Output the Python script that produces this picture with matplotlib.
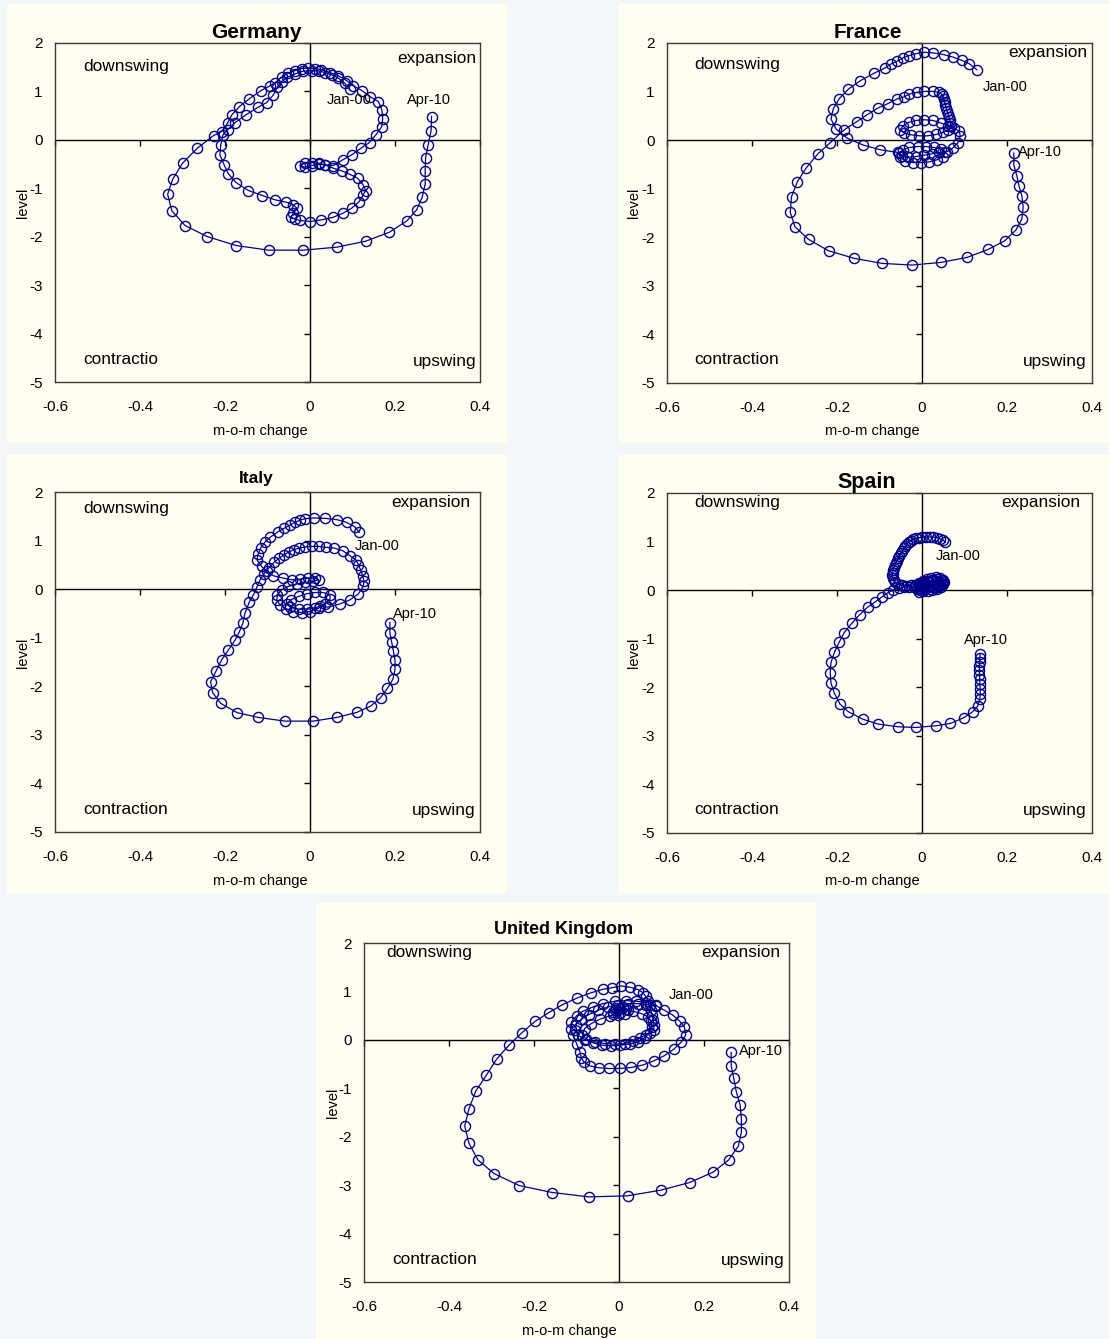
import matplotlib.pyplot as plt
from matplotlib.patches import Rectangle

plt.rcParams['font.family'] = ['Liberation Sans', 'DejaVu Sans']
plt.rcParams['axes.unicode_minus'] = False

# monthly cycle position, Jan-00 .. Apr-10: x = m-o-m change, y = level
germany_x = [
    0.094, 0.082, 0.067, 0.051, 0.035, 0.020, 0.004, -0.016, -0.035, -0.053,
    -0.067, -0.077, -0.086, -0.102, -0.122, -0.151, -0.176, -0.194, -0.205, -0.210,
    -0.212, -0.202, -0.192, -0.174, -0.145, -0.112, -0.082, -0.056, -0.039, -0.031,
    -0.039, -0.045, -0.035, -0.024, 0.000, 0.027, 0.053, 0.078, 0.098, 0.116,
    0.125, 0.131, 0.125, 0.112, 0.093, 0.075, 0.055, 0.035, 0.020, 0.004,
    -0.012, -0.024, -0.012, 0.004, 0.020, 0.035, 0.055, 0.077, 0.098, 0.120,
    0.140, 0.155, 0.169, 0.171, 0.169, 0.161, 0.141, 0.122, 0.102, 0.086,
    0.067, 0.047, 0.027, 0.012, -0.004, -0.020, -0.035, -0.051, -0.067, -0.082,
    -0.094, -0.115, -0.143, -0.166, -0.184, -0.194, -0.208, -0.227, -0.265, -0.300,
    -0.323, -0.335, -0.325, -0.294, -0.242, -0.174, -0.097, -0.016, 0.063, 0.131,
    0.187, 0.228, 0.251, 0.264, 0.271, 0.271, 0.272, 0.278, 0.285, 0.286,
]
germany_y = [
    1.046, 1.170, 1.273, 1.342, 1.390, 1.425, 1.431, 1.418, 1.363, 1.294,
    1.204, 1.087, 0.929, 0.771, 0.674, 0.516, 0.358, 0.206, 0.103, -0.103,
    -0.310, -0.516, -0.702, -0.881, -1.046, -1.149, -1.239, -1.287, -1.342, -1.411,
    -1.514, -1.597, -1.638, -1.665, -1.686, -1.652, -1.603, -1.514, -1.411, -1.273,
    -1.136, -1.046, -0.929, -0.791, -0.709, -0.640, -0.585, -0.516, -0.482, -0.468,
    -0.482, -0.530, -0.564, -0.530, -0.502, -0.516, -0.530, -0.413, -0.310, -0.172,
    -0.055, 0.103, 0.275, 0.434, 0.619, 0.791, 0.895, 1.019, 1.115, 1.225,
    1.321, 1.390, 1.445, 1.473, 1.480, 1.473, 1.431, 1.376, 1.294, 1.184,
    1.115, 1.019, 0.847, 0.688, 0.516, 0.344, 0.172, 0.089, -0.172, -0.482,
    -0.812, -1.122, -1.466, -1.769, -1.996, -2.182, -2.278, -2.278, -2.216, -2.092,
    -1.906, -1.672, -1.445, -1.184, -0.915, -0.640, -0.365, -0.103, 0.193, 0.482,
]

france_x = [
    0.129, 0.111, 0.093, 0.072, 0.051, 0.027, 0.005, -0.014, -0.031, -0.045,
    -0.059, -0.073, -0.087, -0.112, -0.145, -0.173, -0.195, -0.209, -0.214, -0.202,
    -0.176, -0.140, -0.098, -0.056, -0.051, -0.040, -0.022, -0.002, 0.017, 0.035,
    0.049, 0.053, 0.045, 0.029, 0.009, -0.010, -0.030, -0.045, -0.053, -0.048,
    -0.034, -0.014, 0.005, 0.023, 0.041, 0.059, 0.072, 0.084, 0.090, 0.088,
    0.076, 0.060, 0.045, 0.025, 0.005, -0.014, -0.031, -0.045, -0.051, -0.042,
    -0.026, -0.006, 0.013, 0.033, 0.049, 0.062, 0.068, 0.067, 0.065, 0.063,
    0.061, 0.059, 0.057, 0.055, 0.053, 0.051, 0.049, 0.046, 0.041, 0.025,
    0.005, -0.012, -0.030, -0.043, -0.059, -0.081, -0.104, -0.129, -0.154, -0.183,
    -0.217, -0.245, -0.273, -0.293, -0.307, -0.310, -0.299, -0.267, -0.220, -0.159,
    -0.093, -0.024, 0.045, 0.106, 0.156, 0.195, 0.221, 0.235, 0.238, 0.235,
    0.228, 0.223, 0.216, 0.216,
]
france_y = [
    1.451, 1.575, 1.644, 1.713, 1.761, 1.795, 1.809, 1.781, 1.740, 1.692,
    1.623, 1.568, 1.486, 1.382, 1.224, 1.052, 0.853, 0.640, 0.433, 0.227,
    0.041, -0.096, -0.199, -0.254, -0.351, -0.426, -0.461, -0.461, -0.447, -0.406,
    -0.337, -0.254, -0.186, -0.151, -0.131, -0.131, -0.151, -0.199, -0.268, -0.323,
    -0.351, -0.337, -0.310, -0.282, -0.254, -0.234, -0.165, -0.062, 0.076, 0.179,
    0.248, 0.296, 0.351, 0.406, 0.420, 0.406, 0.365, 0.296, 0.213, 0.144,
    0.110, 0.089, 0.089, 0.117, 0.158, 0.213, 0.300, 0.360, 0.420, 0.480,
    0.540, 0.600, 0.660, 0.720, 0.780, 0.840, 0.900, 0.950, 0.983, 1.004,
    1.004, 0.983, 0.949, 0.887, 0.846, 0.750, 0.660, 0.523, 0.378, 0.213,
    -0.062, -0.282, -0.578, -0.853, -1.162, -1.486, -1.781, -2.043, -2.277, -2.435,
    -2.538, -2.572, -2.517, -2.414, -2.249, -2.070, -1.850, -1.623, -1.382, -1.149,
    -0.935, -0.729, -0.509, -0.268,
]

italy_x = [
    0.116, 0.106, 0.086, 0.063, 0.035, 0.009, -0.012, -0.024, -0.035, -0.047,
    -0.061, -0.075, -0.093, -0.106, -0.116, -0.122, -0.125, -0.114, -0.102, -0.086,
    -0.063, -0.043, -0.024, -0.004, 0.012, 0.020, 0.008, -0.012, -0.031, -0.051,
    -0.067, -0.077, -0.078, -0.071, -0.056, -0.039, -0.020, 0.000, 0.020, 0.035,
    0.047, 0.047, 0.031, 0.012, -0.008, -0.027, -0.045, -0.055, -0.047, -0.027,
    -0.008, 0.012, 0.024, 0.043, 0.071, 0.094, 0.114, 0.125, 0.127, 0.124,
    0.119, 0.114, 0.108, 0.094, 0.077, 0.057, 0.038, 0.020, 0.004, -0.012,
    -0.025, -0.038, -0.050, -0.061, -0.072, -0.085, -0.097, -0.108, -0.118, -0.125,
    -0.133, -0.143, -0.153, -0.158, -0.166, -0.176, -0.192, -0.208, -0.221, -0.234,
    -0.229, -0.210, -0.171, -0.122, -0.059, 0.008, 0.063, 0.110, 0.143, 0.166,
    0.182, 0.195, 0.200, 0.200, 0.196, 0.192, 0.188, 0.188,
]
italy_y = [
    1.169, 1.279, 1.376, 1.431, 1.458, 1.465, 1.451, 1.417, 1.376, 1.321,
    1.252, 1.183, 1.073, 0.970, 0.846, 0.722, 0.605, 0.468, 0.365, 0.275,
    0.227, 0.193, 0.206, 0.227, 0.227, 0.193, 0.158, 0.138, 0.110, 0.055,
    -0.014, -0.117, -0.220, -0.323, -0.406, -0.461, -0.481, -0.461, -0.392, -0.303,
    -0.206, -0.117, -0.069, -0.069, -0.096, -0.151, -0.220, -0.303, -0.371, -0.413,
    -0.413, -0.392, -0.344, -0.371, -0.303, -0.220, -0.096, 0.055, 0.158, 0.275,
    0.399, 0.502, 0.605, 0.688, 0.791, 0.846, 0.860, 0.880, 0.880, 0.867,
    0.846, 0.812, 0.763, 0.708, 0.640, 0.550, 0.433, 0.316, 0.179, 0.041,
    -0.117, -0.268, -0.495, -0.702, -0.874, -1.045, -1.252, -1.458, -1.685, -1.905,
    -2.132, -2.352, -2.545, -2.641, -2.717, -2.717, -2.641, -2.538, -2.407, -2.235,
    -2.043, -1.857, -1.651, -1.458, -1.266, -1.080, -0.894, -0.688,
]

spain_x = [
    0.055, 0.050, 0.043, 0.035, 0.027, 0.018, 0.009, 0.000, -0.008, -0.015,
    -0.021, -0.026, -0.031, -0.035, -0.039, -0.042, -0.046, -0.050, -0.053, -0.056,
    -0.059, -0.062, -0.064, -0.066, -0.068, -0.069, -0.070, -0.069, -0.067, -0.063,
    -0.056, -0.047, -0.037, -0.027, -0.017, -0.008, 0.003, 0.014, 0.025, 0.036,
    0.045, 0.050, 0.048, 0.041, 0.031, 0.019, 0.008, -0.002, -0.008, -0.006,
    0.002, 0.012, 0.022, 0.033, 0.043, 0.049, 0.052, 0.050, 0.044, 0.035,
    0.024, 0.013, 0.003, -0.004, -0.007, -0.003, 0.006, 0.016, 0.027, 0.037,
    0.042, 0.038, 0.028, 0.017, 0.008, 0.003, 0.006, 0.000, -0.006, -0.012,
    -0.020, -0.030, -0.042, -0.055, -0.068, -0.080, -0.093, -0.110, -0.128, -0.147,
    -0.165, -0.183, -0.195, -0.206, -0.214, -0.216, -0.214, -0.206, -0.193, -0.173,
    -0.140, -0.103, -0.057, -0.014, 0.033, 0.067, 0.098, 0.119, 0.131, 0.136,
    0.137, 0.137, 0.136, 0.136, 0.135, 0.135, 0.135, 0.136, 0.136, 0.137,
]
spain_y = [
    0.983, 1.030, 1.060, 1.080, 1.090, 1.095, 1.095, 1.090, 1.080, 1.065,
    1.045, 1.020, 0.990, 0.950, 0.900, 0.860, 0.810, 0.760, 0.710, 0.660,
    0.610, 0.560, 0.510, 0.460, 0.410, 0.360, 0.310, 0.260, 0.210, 0.160,
    0.120, 0.100, 0.095, 0.100, 0.110, 0.130, 0.160, 0.190, 0.210, 0.220,
    0.200, 0.160, 0.120, 0.080, 0.050, 0.030, 0.030, 0.050, 0.090, 0.140,
    0.190, 0.230, 0.260, 0.270, 0.250, 0.210, 0.170, 0.120, 0.070, 0.030,
    0.000, -0.020, -0.020, 0.010, 0.050, 0.100, 0.140, 0.170, 0.180, 0.170,
    0.130, 0.090, 0.070, 0.070, 0.090, 0.120, 0.060, 0.000, -0.030, 0.020,
    0.060, 0.070, 0.060, 0.035, 0.000, -0.050, -0.131, -0.241, -0.351, -0.509,
    -0.681, -0.874, -1.073, -1.279, -1.486, -1.713, -1.919, -2.125, -2.345, -2.504,
    -2.655, -2.758, -2.813, -2.827, -2.792, -2.744, -2.627, -2.504, -2.387, -2.249,
    -2.139, -2.029, -1.933, -1.836, -1.740, -1.644, -1.561, -1.479, -1.396, -1.314,
]

uk_x = [
    0.088, 0.064, 0.041, 0.017, -0.010, -0.038, -0.061, -0.085, -0.100, -0.112,
    -0.114, -0.108, -0.100, -0.092, -0.089, -0.083, -0.069, -0.047, -0.024, 0.002,
    0.029, 0.055, 0.082, 0.106, 0.129, 0.147, 0.157, 0.154, 0.143, 0.127,
    0.107, 0.088, 0.064, 0.045, 0.021, -0.002, -0.026, -0.049, -0.071, -0.089,
    -0.102, -0.104, -0.096, -0.081, -0.061, -0.039, -0.018, 0.003, 0.025, 0.045,
    0.060, 0.072, 0.078, 0.076, 0.068, 0.053, 0.033, 0.016, 0.002, -0.010,
    -0.014, -0.002, 0.013, 0.021, 0.009, -0.006, -0.013, 0.002, -0.022, -0.045,
    -0.065, -0.081, -0.086, -0.077, -0.057, -0.034, -0.010, 0.013, 0.033, 0.050,
    0.064, 0.082, 0.082, 0.080, 0.078, 0.075, 0.072, 0.068, 0.063, 0.056,
    0.045, 0.027, 0.005, -0.016, -0.038, -0.067, -0.098, -0.133, -0.165, -0.197,
    -0.228, -0.259, -0.288, -0.312, -0.337, -0.353, -0.363, -0.353, -0.332, -0.294,
    -0.235, -0.157, -0.071, 0.020, 0.098, 0.166, 0.221, 0.258, 0.281, 0.288,
    0.288, 0.285, 0.276, 0.270, 0.264, 0.264,
]
uk_y = [
    0.714, 0.769, 0.797, 0.810, 0.797, 0.749, 0.680, 0.591, 0.495, 0.371,
    0.234, 0.096, -0.076, -0.247, -0.371, -0.453, -0.536, -0.577, -0.591, -0.591,
    -0.570, -0.522, -0.433, -0.330, -0.192, -0.041, 0.096, 0.268, 0.385, 0.508,
    0.611, 0.701, 0.728, 0.749, 0.749, 0.728, 0.680, 0.611, 0.522, 0.426,
    0.316, 0.199, 0.096, 0.007, -0.062, -0.110, -0.124, -0.110, -0.089, -0.041,
    0.041, 0.151, 0.268, 0.385, 0.474, 0.543, 0.591, 0.632, 0.646, 0.611,
    0.543, 0.508, 0.543, 0.611, 0.680, 0.659, 0.577, 0.563, 0.495, 0.426,
    0.337, 0.234, 0.110, 0.014, -0.041, -0.076, -0.089, -0.076, -0.027, 0.041,
    0.110, 0.199, 0.302, 0.405, 0.508, 0.611, 0.714, 0.810, 0.900, 0.975,
    1.037, 1.085, 1.113, 1.078, 1.044, 0.968, 0.865, 0.728, 0.563, 0.385,
    0.151, -0.110, -0.398, -0.728, -1.058, -1.422, -1.779, -2.136, -2.479, -2.761,
    -3.008, -3.152, -3.242, -3.221, -3.104, -2.946, -2.734, -2.479, -2.191, -1.902,
    -1.628, -1.346, -1.071, -0.797, -0.536, -0.261,
]

x_ticks = [-0.6, -0.4, -0.2, 0, 0.2, 0.4]
x_tick_labels = ["-0.6", "-0.4", "-0.2", "0", "0.2", "0.4"]
y_ticks = [2, 1, 0, -1, -2, -3, -4, -5]
y_tick_labels = ["2", "1", "0", "-1", "-2", "-3", "-4", "-5"]

W, H = 1109, 1339
PAGE = "#F3F7FA"
CREAM = "#FFFEF1"
NAVY = "#000088"


def px_rect(left, top, right, bottom):
    return [left / W, 1 - bottom / H, (right - left) / W, (bottom - top) / H]


def px_text(fig, x, y, s, **kw):
    fig.text(x / W, 1 - y / H, s, **kw)


# pixel layout of each panel: background box, plot box, title, quadrant words,
# date tags and axis titles
panels = [
    dict(name="Germany", xs=germany_x, ys=germany_y, bg=(7, 4, 507, 443),
         box=(55, 43, 480, 382), title=(256, 32, 15),
         quad=[("downswing", 83, 66, "left"), ("expansion", 476, 59, "right"),
               ("contractio", 83, 360, "left"), ("upswing", 476, 361, "right")],
         jan=(327, 100), apr=(407, 100), xlab=(260, 431), ylab=(23, 203)),
    dict(name="France", xs=france_x, ys=france_y, bg=(618, 4, 1109, 443),
         box=(667, 43, 1092, 383), title=(868, 32, 15),
         quad=[("downswing", 694, 65, "left"), ("expansion", 1087, 52, "right"),
               ("contraction", 694, 360, "left"), ("upswing", 1087, 361, "right")],
         jan=(983, 87), apr=(1018, 152), xlab=(872, 431), ylab=(634, 203)),
    dict(name="Italy", xs=italy_x, ys=italy_y, bg=(7, 455, 507, 893),
         box=(55, 492, 480, 832), title=(256, 479, 12.5),
         quad=[("downswing", 83, 509, "left"), ("expansion", 470, 502, "right"),
               ("contraction", 83, 810, "left"), ("upswing", 475, 811, "right")],
         jan=(355, 546), apr=(393, 614), xlab=(260, 881), ylab=(23, 653)),
    dict(name="Spain", xs=spain_x, ys=spain_y, bg=(618, 455, 1109, 893),
         box=(667, 493, 1092, 833), title=(867, 482, 15.5),
         quad=[("downswing", 694, 502, "left"), ("expansion", 1080, 503, "right"),
               ("contraction", 694, 810, "left"), ("upswing", 1087, 811, "right")],
         jan=(936, 556), apr=(964, 640), xlab=(872, 881), ylab=(634, 653)),
    dict(name="United Kingdom", xs=uk_x, ys=uk_y, bg=(316, 903, 816, 1339),
         box=(364, 943, 789, 1282), title=(564, 929, 13),
         quad=[("downswing", 386, 952, "left"), ("expansion", 780, 952, "right"),
               ("contraction", 392, 1260, "left"), ("upswing", 785, 1261, "right")],
         jan=(669, 995), apr=(739, 1051), xlab=(569, 1331), ylab=(333, 1103)),
]

fig = plt.figure(figsize=(W / 100, H / 100), dpi=100, facecolor=PAGE)

for p in panels:
    l, t, r, b = p["bg"]
    fig.patches.append(Rectangle((l / W, 1 - b / H), (r - l) / W, (b - t) / H,
                                 transform=fig.transFigure, facecolor=CREAM,
                                 edgecolor="none", zorder=-5))

    ax = fig.add_axes(px_rect(*p["box"]))
    ax.set_facecolor(CREAM)
    ax.set_xlim(-0.6, 0.4)
    ax.set_ylim(-5, 2)
    for sp in ax.spines.values():
        sp.set_color("#3a3a3a")
        sp.set_linewidth(1.0)

    # axes crossing at the origin, with their own tick marks
    ax.axhline(0, color="black", lw=1.0, zorder=1)
    ax.axvline(0, color="black", lw=1.0, zorder=1)
    ax.plot(x_ticks, [0] * len(x_ticks), ls="none", marker=3, ms=4, mew=1.0,
            color="black", clip_on=False, zorder=1)
    ax.plot([0] * len(y_ticks), y_ticks, ls="none", marker=0, ms=4, mew=1.0,
            color="black", clip_on=False, zorder=1)

    ax.set_xticks(x_ticks, x_tick_labels)
    ax.set_yticks(y_ticks, y_tick_labels)
    ax.tick_params(axis="both", length=0, labelsize=11, colors="black")
    ax.tick_params(axis="x", pad=13)
    ax.tick_params(axis="y", pad=9)

    ax.plot(p["xs"], p["ys"], color=NAVY, lw=0.9, marker="o", ms=7.3,
            mfc="none", mec=NAVY, mew=1.0, zorder=3)

    cx, cy, fs = p["title"]
    px_text(fig, cx, cy, p["name"], ha="center", va="center",
            fontsize=fs, fontweight="bold")
    for word, qx, qy, ha in p["quad"]:
        px_text(fig, qx, qy, word, ha=ha, va="center", fontsize=12.4)
    px_text(fig, p["jan"][0], p["jan"][1], "Jan-00", ha="left", va="center",
            fontsize=10.5)
    px_text(fig, p["apr"][0], p["apr"][1], "Apr-10", ha="left", va="center",
            fontsize=10.5)
    px_text(fig, p["xlab"][0], p["xlab"][1], "m-o-m change", ha="center",
            va="center", fontsize=10.5)
    px_text(fig, p["ylab"][0], p["ylab"][1], "level", ha="center",
            va="center", fontsize=10.5, rotation=90)

fig.savefig("out.png", dpi=100, facecolor=PAGE)
